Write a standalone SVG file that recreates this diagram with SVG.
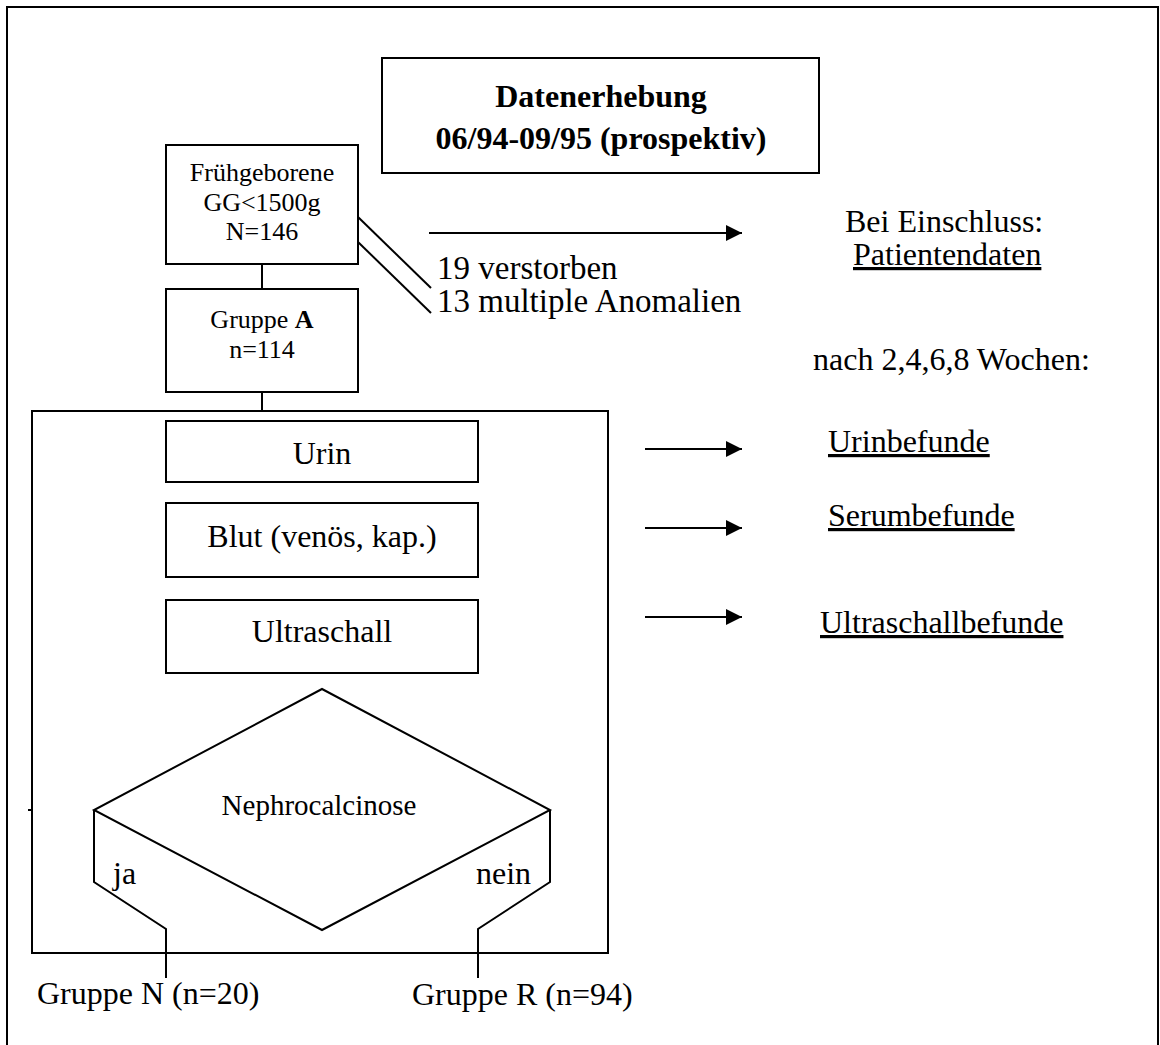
<svg xmlns="http://www.w3.org/2000/svg" width="1160" height="1045" viewBox="0 0 1160 1045">
<style>
.b{fill:#fff;stroke:#000;stroke-width:2}
.l{fill:none;stroke:#000;stroke-width:2}
.t{font-family:"Liberation Serif","Times New Roman",serif;fill:#000}
.s32{font-size:32px}
.s26{font-size:26px}
.m{text-anchor:middle}
.u{text-decoration:underline}
</style>
<defs>
<marker id="ah" viewBox="0 0 16 16" refX="16" refY="8" markerWidth="16" markerHeight="16" markerUnits="userSpaceOnUse" orient="auto">
<path d="M0,0 L16,8 L0,16 Z" fill="#000"/>
</marker>
</defs>
<rect x="0" y="0" width="1160" height="1045" fill="#fff"/>
<path class="l" d="M7,1045 V7 H1158 V1045"/>

<g id="title">
<rect class="b" x="382" y="58" width="437" height="115"/>
<text class="t m" x="601" y="107" font-size="32" font-weight="bold">Datenerhebung</text>
<text class="t m" x="601" y="149" font-size="32" font-weight="bold">06/94-09/95 (prospektiv)</text>
</g>

<g id="container">
<rect class="l" x="32" y="411" width="576" height="542"/>
</g>

<g id="connectors">
<line class="l" x1="262" y1="264" x2="262" y2="289"/>
<line class="l" x1="262" y1="392" x2="262" y2="411"/>
<line class="l" x1="358" y1="217" x2="431" y2="288"/>
<line class="l" x1="358" y1="242" x2="431" y2="313"/>
<line class="l" x1="429" y1="233" x2="742" y2="233" marker-end="url(#ah)"/>
<line class="l" x1="645" y1="449" x2="742" y2="449" marker-end="url(#ah)"/>
<line class="l" x1="645" y1="528" x2="742" y2="528" marker-end="url(#ah)"/>
<line class="l" x1="645" y1="617" x2="742" y2="617" marker-end="url(#ah)"/>
<path class="l" d="M94,810 V882 L166,929 V978"/>
<path class="l" d="M550,810 V882 L478,929 V978"/>
<line class="l" x1="28" y1="810" x2="32" y2="810"/>
</g>

<g id="fruehgeborene">
<rect class="b" x="166" y="145" width="192" height="119"/>
<text class="t s26 m" x="262" y="181">Frühgeborene</text>
<text class="t s26 m" x="262" y="211">GG&lt;1500g</text>
<text class="t s26 m" x="262" y="240">N=146</text>
</g>

<g id="gruppeA">
<rect class="b" x="166" y="289" width="192" height="103"/>
<text class="t s26 m" x="262" y="328">Gruppe <tspan font-weight="bold">A</tspan></text>
<text class="t s26 m" x="262" y="358">n=114</text>
</g>

<g id="excluded">
<text class="t" font-size="33" x="437" y="279">19 verstorben</text>
<text class="t" font-size="33" x="437" y="312">13 multiple Anomalien</text>
</g>

<g id="urin">
<rect class="b" x="166" y="421" width="312" height="61"/>
<text class="t s32 m" x="322" y="464">Urin</text>
</g>

<g id="blut">
<rect class="b" x="166" y="503" width="312" height="74"/>
<text class="t s32 m" x="322" y="547">Blut (venös, kap.)</text>
</g>

<g id="ultraschall">
<rect class="b" x="166" y="600" width="312" height="73"/>
<text class="t s32 m" x="322" y="642">Ultraschall</text>
</g>

<g id="nephro">
<polygon class="b" points="322,689 550,810 322,930 94,810"/>
<text class="t m" font-size="29" x="319" y="815">Nephrocalcinose</text>
</g>

<text class="t s32" x="113" y="884">ja</text>
<text class="t s32" x="476" y="884">nein</text>

<g id="gruppeN">
<text class="t s32" x="37" y="1004">Gruppe N (n=20)</text>
</g>
<g id="gruppeR">
<text class="t s32" x="412" y="1005">Gruppe R (n=94)</text>
</g>

<g id="right-labels">
<text class="t s32" x="845" y="232">Bei Einschluss:</text>
<text class="t s32 u" x="853" y="265">Patientendaten</text>
<text class="t s32" x="813" y="370">nach 2,4,6,8 Wochen:</text>
<text class="t s32 u" x="828" y="452">Urinbefunde</text>
<text class="t s32 u" x="828" y="526">Serumbefunde</text>
<text class="t s32 u" x="820" y="633">Ultraschallbefunde</text>
</g>
</svg>
